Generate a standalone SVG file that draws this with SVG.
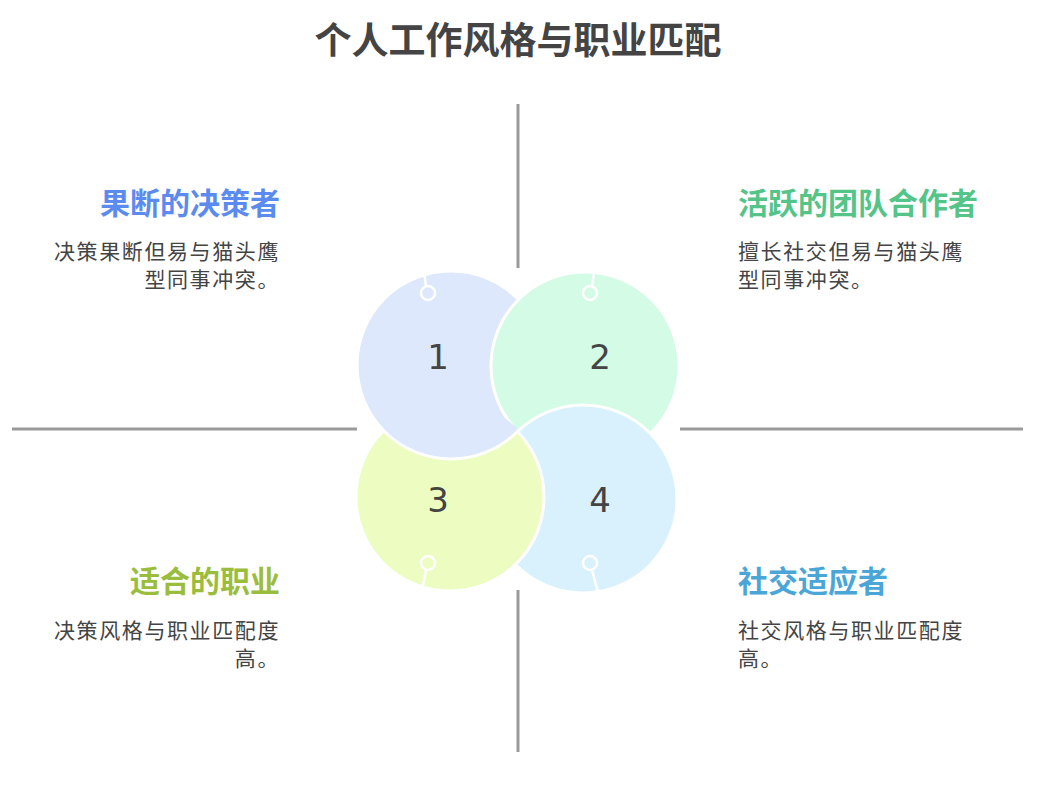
<svg xmlns="http://www.w3.org/2000/svg" width="1062" height="786" viewBox="0 0 1062 786">
<style>
.ln{stroke:#9a9a9a;stroke-width:3;fill:none}
.c{stroke:#fff;stroke-width:3}
.k{stroke:#fff;stroke-width:2.5;fill:none}
.t{font-family:"Noto Sans CJK SC","Noto Sans",sans-serif}
.h{font-size:30px;font-weight:bold}
.b{font-size:21px;fill:#444;letter-spacing:1.6px}
.n{font-family:"Comic Sans MS","DejaVu Sans",sans-serif;font-size:34px;fill:#444;text-anchor:middle}
</style>
<defs><clipPath id="c3"><circle cx="450" cy="497" r="96"/></clipPath></defs>
<rect width="1062" height="786" fill="#fff"/>
<text class="t" x="518" y="54" text-anchor="middle" font-size="37" font-weight="bold" fill="#444">个人工作风格与职业匹配</text>
<g id="connectors">
<line class="ln" x1="518" y1="104" x2="518" y2="268"/>
<line class="ln" x1="518" y1="590" x2="518" y2="752"/>
<line class="ln" x1="12" y1="429" x2="357" y2="429"/>
<line class="ln" x1="680" y1="429" x2="1023" y2="429"/>
</g>
<g id="n1"><circle class="c" cx="451" cy="365" r="94" fill="#dde8fc"/></g>
<g id="n2"><circle class="c" cx="585" cy="366" r="94" fill="#d3fbe6"/></g>
<g id="n4"><circle class="c" cx="583" cy="499" r="94" fill="#d9f1fc"/></g>
<g id="n3"><circle class="c" cx="450" cy="497" r="94" fill="#edfcc0"/></g>
<g clip-path="url(#c3)"><circle class="c" cx="451" cy="365" r="94" fill="#dde8fc"/></g>
<g id="knobs">
<circle class="k" cx="428" cy="293" r="7"/><line class="k" x1="426" y1="286" x2="424" y2="272"/>
<circle class="k" cx="590" cy="293" r="7"/><line class="k" x1="592" y1="286" x2="594" y2="273"/>
<circle class="k" cx="428" cy="563" r="7"/><line class="k" x1="426" y1="570" x2="422" y2="590"/>
<circle class="k" cx="590" cy="563" r="7"/><line class="k" x1="592" y1="570" x2="598" y2="592"/>
</g>
<text class="n" x="438" y="369">1</text>
<text class="n" x="600" y="369">2</text>
<text class="n" x="438" y="512">3</text>
<text class="n" x="600" y="512">4</text>
<g id="q1" class="t" text-anchor="end">
<text class="h" x="280" y="214" fill="#5b8bef">果断的决策者</text>
<text class="b" x="280" y="259">决策果断但易与猫头鹰</text>
<text class="b" x="280" y="287">型同事冲突。</text>
</g>
<g id="q2" class="t">
<text class="h" x="738" y="214" fill="#55c489">活跃的团队合作者</text>
<text class="b" x="738" y="259">擅长社交但易与猫头鹰</text>
<text class="b" x="738" y="287">型同事冲突。</text>
</g>
<g id="q3" class="t" text-anchor="end">
<text class="h" x="280" y="592" fill="#9bbd3d">适合的职业</text>
<text class="b" x="280" y="638">决策风格与职业匹配度</text>
<text class="b" x="280" y="666">高。</text>
</g>
<g id="q4" class="t">
<text class="h" x="738" y="592" fill="#4ba6d8">社交适应者</text>
<text class="b" x="738" y="638">社交风格与职业匹配度</text>
<text class="b" x="738" y="666">高。</text>
</g>
</svg>
